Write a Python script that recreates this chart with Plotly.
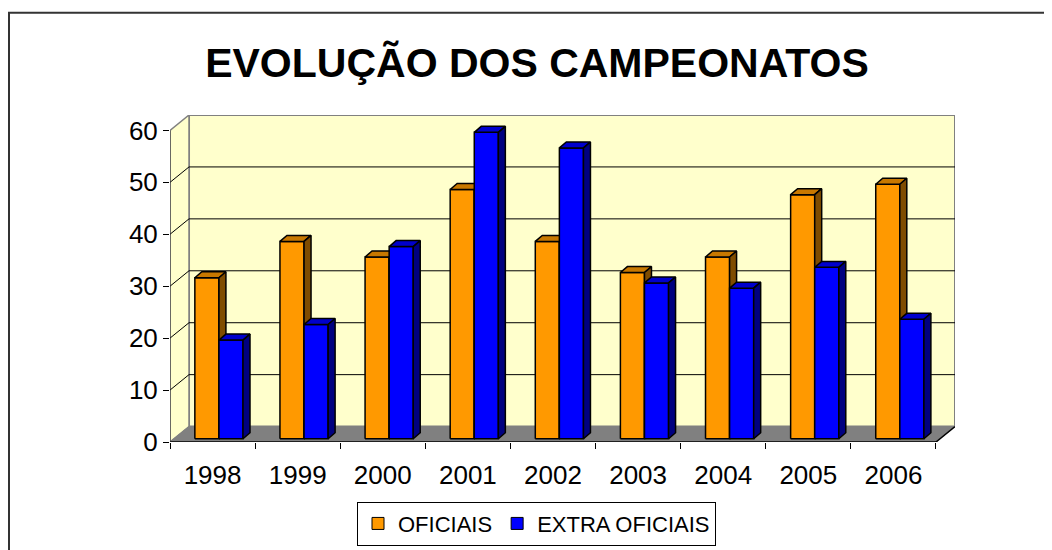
import plotly.graph_objects as go

# ---- data ----
years = ["1998", "1999", "2000", "2001", "2002", "2003", "2004", "2005", "2006"]
oficiais = [31, 38, 35, 48, 38, 32, 35, 47, 49]
extra_oficiais = [19, 22, 37, 59, 56, 30, 29, 33, 23]
y_ticks = [0, 10, 20, 30, 40, 50, 60]

# ---- geometry of the pseudo-3D projection (axis units) ----
DX, DY = 0.2233, 2.97        # full depth of floor/walls
FX, FY = 0.075, 0.63         # offset of bar front faces
BDX, BDY = 0.082, 1.15       # depth of each bar
W = 0.283                    # width of each bar
YMAX = 60

n = len(years)
xs = list(range(n))

ORANGE = dict(front="#FF9900", top="#C87800", side="#7F4C00")
BLUE = dict(front="#0000FF", top="#0000CC", side="#000080")

PAGE_OFF = 8  # default body margin of the html page


def faces(values, left):
    fx, fy, tx, ty, sx, sy = [], [], [], [], [], []
    for c, v in zip(xs, values):
        x0 = c + FX + left
        x1 = x0 + W
        b = FY
        h = b + v
        fx += [x0, x1, x1, x0, x0, None]
        fy += [b, b, h, h, b, None]
        tx += [x0, x1, x1 + BDX, x0 + BDX, x0, None]
        ty += [h, h, h + BDY, h + BDY, h, None]
        sx += [x1, x1 + BDX, x1 + BDX, x1, x1, None]
        sy += [b, b + BDY, h + BDY, h, b, None]
    return (fx, fy), (tx, ty), (sx, sy)


fig = go.Figure()

for values, left, col in [(oficiais, -W, ORANGE), (extra_oficiais, 0.0, BLUE)]:
    f, t, s = faces(values, left)
    for (px, py), key in [(f, "front"), (t, "top"), (s, "side")]:
        fig.add_trace(go.Scatter(
            x=px, y=py, mode="lines", fill="toself", fillcolor=col[key],
            line=dict(color="black", width=1.5), hoverinfo="skip",
            showlegend=False))

# legend entries
fig.add_trace(go.Bar(x=[None], y=[None], name="OFICIAIS",
                     marker=dict(color=ORANGE["front"], line=dict(color="black", width=1))))
fig.add_trace(go.Bar(x=[None], y=[None], name="EXTRA OFICIAIS",
                     marker=dict(color=BLUE["front"], line=dict(color="black", width=1))))

shapes = []
XL, XR = -0.5, n - 0.5
# back wall
shapes.append(dict(type="path", layer="below", xref="x", yref="y",
                   path=f"M{XL+DX},{DY} L{XR+DX},{DY} L{XR+DX},{YMAX+DY} L{XL+DX},{YMAX+DY} Z",
                   fillcolor="#FFFFCC", line=dict(color="#808080", width=2)))
# left side wall
shapes.append(dict(type="path", layer="below", xref="x", yref="y",
                   path=f"M{XL},0 L{XL},{YMAX} L{XL+DX},{YMAX+DY} L{XL+DX},{DY} Z",
                   fillcolor="#FFFFCC", line=dict(color="#808080", width=1.5)))
# gridlines
for v in y_ticks[1:-1]:
    shapes.append(dict(type="line", layer="below", xref="x", yref="y",
                       x0=XL + DX, x1=XR + DX, y0=v + DY, y1=v + DY,
                       line=dict(color="black", width=1)))
    shapes.append(dict(type="line", layer="below", xref="x", yref="y",
                       x0=XL, x1=XL + DX, y0=v, y1=v + DY,
                       line=dict(color="black", width=1)))
# floor
shapes.append(dict(type="path", layer="below", xref="x", yref="y",
                   path=f"M{XL},0 L{XR},0 L{XR+DX},{DY} L{XL+DX},{DY} Z",
                   fillcolor="#808080", line=dict(color="#808080", width=1)))
# floor front edge / right edge (axis line)
shapes.append(dict(type="line", xref="x", yref="y", x0=XL, x1=XR, y0=0, y1=0,
                   line=dict(color="black", width=1.5)))
shapes.append(dict(type="line", xref="x", yref="y", x0=XR, x1=XR + DX, y0=0, y1=DY,
                   line=dict(color="black", width=1.5)))
# front vertical axis line
shapes.append(dict(type="line", xref="x", yref="y", x0=XL, x1=XL, y0=0, y1=YMAX,
                   line=dict(color="#333333", width=1)))

# screen-pixel layout (compensating for page margin)
L_M, T_M, PW, PH = 170 - PAGE_OFF, 115 - PAGE_OFF, 785, 329


def px2paper_x(p): return (p - PAGE_OFF - L_M) / PW
def px2paper_y(p): return (T_M + PH - (p - PAGE_OFF)) / PH


# outer frame
shapes.append(dict(type="rect", xref="paper", yref="paper",
                   x0=px2paper_x(9), x1=px2paper_x(1080),
                   y0=px2paper_y(580), y1=px2paper_y(12),
                   line=dict(color="#333333", width=2), fillcolor="rgba(0,0,0,0)"))

fig.update_layout(
    width=1052, height=550,
    margin=dict(l=L_M, r=1052 - L_M - PW, t=T_M, b=550 - T_M - PH),
    paper_bgcolor="white", plot_bgcolor="white",
    shapes=shapes,
    showlegend=True,
    title=dict(text="<b>EVOLUÇÃO DOS CAMPEONATOS</b>",
               font=dict(family="Liberation Sans, Arial", size=41, color="black"),
               x=(537 - PAGE_OFF) / 1052, xanchor="center", xref="container",
               y=1 - (63 - PAGE_OFF) / 550, yanchor="middle", yref="container"),
    legend=dict(orientation="h", x=px2paper_x(536.5), xanchor="center",
                y=px2paper_y(504), yanchor="top",
                bordercolor="black", borderwidth=1, bgcolor="white",
                font=dict(family="Liberation Sans, Arial", size=22, color="black"),
                traceorder="normal"),
    xaxis=dict(range=[XL, XR + DX], tickvals=xs, ticktext=years,
               showgrid=False, zeroline=False, showline=False,
               ticks="outside", ticklen=6, tickcolor="rgba(0,0,0,0)",
               ticklabelstandoff=4,
               tickfont=dict(family="Liberation Sans, Arial", size=26, color="black"),
               minor=dict(tickvals=[i - 0.5 for i in range(n + 1)], ticks="outside",
                          ticklen=6, tickcolor="black", showgrid=False),
               fixedrange=True),
    yaxis=dict(range=[0, YMAX + DY], tickvals=y_ticks,
               showgrid=False, zeroline=False, showline=False,
               ticks="outside", ticklen=6, tickcolor="black",
               tickfont=dict(family="Liberation Sans, Arial", size=26, color="black"),
               fixedrange=True),
)

fig.write_html("out.html")
